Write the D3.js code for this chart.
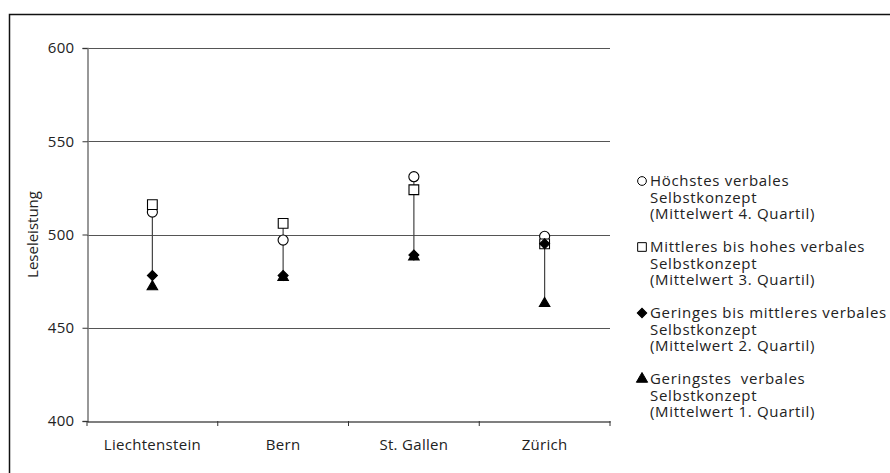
<!DOCTYPE html>
<html>
<head>
<meta charset="utf-8">
<script src="https://cdn.jsdelivr.net/npm/d3@7"></script>
<style>
  body { margin: 0; background: #fff; }
  svg { display: block; font-family: "Open Sans", "Noto Sans", sans-serif; }
  .legend-text { white-space: pre; }
</style>
</head>
<body>
<svg id="chart" width="890" height="473"></svg>
<script>
// Regions on the x axis
const regions = ["Liechtenstein", "Bern", "St. Gallen", "Zürich"];

// Mean reading score per quartile of verbal self-concept
const q4 = [512, 497, 531, 499]; // highest
const q3 = [516, 506, 524, 495]; // medium to high
const q2 = [478, 478, 489, 495]; // low to medium
const q1 = [472, 477, 488, 463]; // lowest

const yTicks = [400, 450, 500, 550, 600];

const legendLabels = [
  ["Höchstes verbales", "Selbstkonzept", "(Mittelwert 4. Quartil)"],
  ["Mittleres bis hohes verbales", "Selbstkonzept", "(Mittelwert 3. Quartil)"],
  ["Geringes bis mittleres verbales", "Selbstkonzept", "(Mittelwert 2. Quartil)"],
  ["Geringstes  verbales", "Selbstkonzept", "(Mittelwert 1. Quartil)"]
];

const svg = d3.select("#chart");

// outer frame
svg.append("rect")
  .attr("x", 9.5).attr("y", 14.5)
  .attr("width", 900).attr("height", 480)
  .attr("fill", "none").attr("stroke", "#111").attr("stroke-width", 1.5);

const plotL = 87, plotR = 610, plotT = 48, plotB = 421;

const x = d3.scaleBand().domain(regions).range([plotL, plotR]);
const y = d3.scaleLinear().domain([400, 600]).range([plotB, plotT]);

// gridlines
svg.append("g").selectAll("line")
  .data(yTicks.filter(t => t > 400))
  .join("line")
  .attr("x1", plotL).attr("x2", plotR)
  .attr("y1", d => Math.round(y(d)) + 0.5).attr("y2", d => Math.round(y(d)) + 0.5)
  .attr("stroke", "#555").attr("stroke-width", 1);

// y axis
const yAxis = svg.append("g")
  .attr("transform", `translate(${plotL + 0.5},0)`)
  .call(d3.axisLeft(y).tickValues(yTicks).tickSize(5).tickPadding(8));
yAxis.select(".domain").attr("stroke", "#777").attr("stroke-width", 1.5);
yAxis.selectAll(".tick line").attr("stroke", "#333");
yAxis.selectAll("text").attr("font-size", 15).attr("fill", "#222")
  .attr("letter-spacing", 0.3)
  .attr("font-family", "'Open Sans', sans-serif");

// x axis
const xAxis = svg.append("g")
  .attr("transform", `translate(0,${Math.round(y(400)) + 0.5})`)
  .call(d3.axisBottom(x).tickSize(0).tickPadding(18));
xAxis.select(".domain").attr("stroke", "#000").attr("stroke-width", 1.2);
xAxis.selectAll("text").attr("font-size", 15).attr("fill", "#222")
  .attr("letter-spacing", 0.3)
  .attr("font-family", "'Open Sans', sans-serif");
// tick marks between categories
svg.append("g").selectAll("line")
  .data(d3.range(regions.length + 1))
  .join("line")
  .attr("x1", i => plotL + i * x.step()).attr("x2", i => plotL + i * x.step())
  .attr("y1", plotB).attr("y2", plotB + 5)
  .attr("stroke", "#333");

// y axis title
svg.append("text")
  .attr("transform", `translate(38,${(plotT + plotB) / 2}) rotate(-90)`)
  .attr("text-anchor", "middle")
  .attr("font-size", 15).attr("fill", "#222")
  .text("Leseleistung");

// high-low lines
const all = regions.map((r, i) => [q4[i], q3[i], q2[i], q1[i]]);
svg.append("g").selectAll("line")
  .data(regions)
  .join("line")
  .attr("x1", (d) => x(d) + x.bandwidth() / 2)
  .attr("x2", (d) => x(d) + x.bandwidth() / 2)
  .attr("y1", (d, i) => y(d3.max(all[i])))
  .attr("y2", (d, i) => y(d3.min(all[i])))
  .attr("stroke", "#444").attr("stroke-width", 1.2);

// markers: diamond is a square turned by 45 degrees
const series = [
  { vals: q4, sym: d3.symbolCircle, size: 80, fill: "#fff", rot: 0 },
  { vals: q3, sym: d3.symbolSquare, size: 95, fill: "#fff", rot: 0 },
  { vals: q2, sym: d3.symbolSquare, size: 50, fill: "#000", rot: 45 },
  { vals: q1, sym: d3.symbolTriangle, size: 48, fill: "#000", rot: 0 }
];

series.forEach(s => {
  svg.append("g").selectAll("path")
    .data(regions)
    .join("path")
    .attr("transform", (d, i) =>
      `translate(${x(d) + x.bandwidth() / 2},${y(s.vals[i])}) rotate(${s.rot})`)
    .attr("d", d3.symbol().type(s.sym).size(s.size))
    .attr("fill", s.fill)
    .attr("stroke", "#000").attr("stroke-width", 1.1);
});

// legend
const legendSyms = [
  { sym: d3.symbolCircle, size: 60, fill: "#fff", rot: 0 },
  { sym: d3.symbolSquare, size: 75, fill: "#fff", rot: 0 },
  { sym: d3.symbolSquare, size: 45, fill: "#000", rot: 45 },
  { sym: d3.symbolTriangle, size: 55, fill: "#000", rot: 0 }
];
const legendTop = [181, 247, 313, 379];
const lineH = 16.5;

legendLabels.forEach((lines, k) => {
  const g = svg.append("g").attr("transform", `translate(0,${legendTop[k]})`);
  g.append("path")
    .attr("transform", `translate(642,0) rotate(${legendSyms[k].rot})`)
    .attr("d", d3.symbol().type(legendSyms[k].sym).size(legendSyms[k].size))
    .attr("fill", legendSyms[k].fill)
    .attr("stroke", "#000").attr("stroke-width", 1);
  lines.forEach((t, j) => {
    g.append("text")
      .attr("class", "legend-text")
      .attr("x", 650).attr("y", j * lineH)
      .attr("dy", "0.35em")
      .attr("font-size", 15).attr("fill", "#222")
      .attr("letter-spacing", 0.7)
      .text(t);
  });
});
</script>
</body>
</html>
